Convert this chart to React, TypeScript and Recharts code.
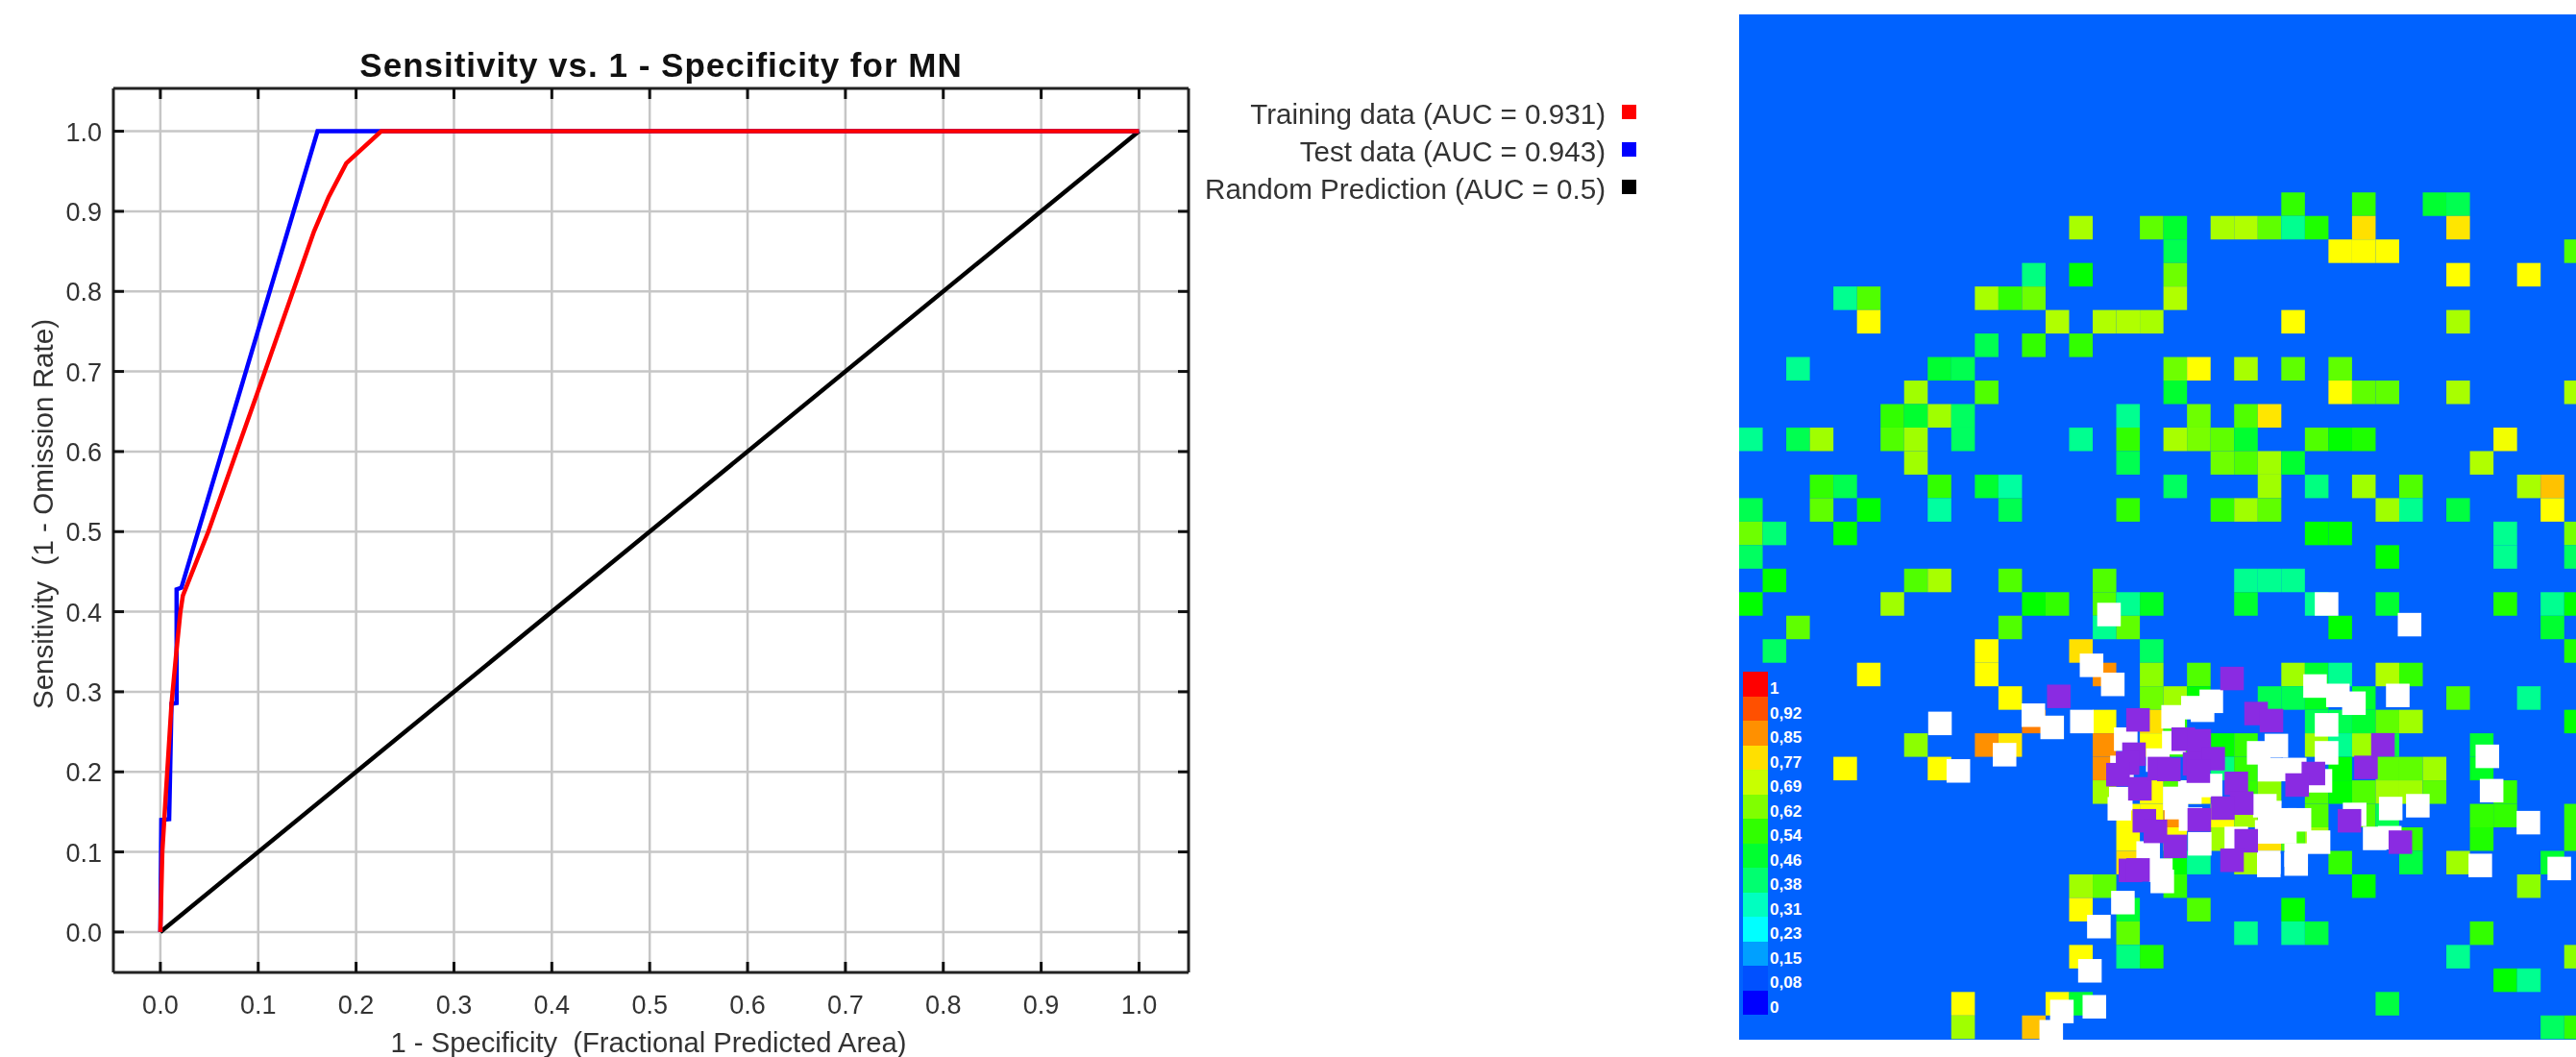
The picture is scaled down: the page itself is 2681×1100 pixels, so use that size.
import React from 'react';
import {
  LineChart, Line, ScatterChart, Scatter, XAxis, YAxis, CartesianGrid,
} from 'recharts';

// ROC curves, x = 1 - specificity, y = sensitivity
const trainingCurve = [
  { x: 0, y: 0 }, { x: 0.002, y: 0.1 }, { x: 0.005, y: 0.16 }, { x: 0.0114, y: 0.285 },
  { x: 0.0166, y: 0.353 }, { x: 0.0205, y: 0.4 }, { x: 0.023, y: 0.42 }, { x: 0.049, y: 0.5 },
  { x: 0.102, y: 0.683 }, { x: 0.157, y: 0.875 }, { x: 0.172, y: 0.918 }, { x: 0.19, y: 0.96 },
  { x: 0.2257, y: 1 }, { x: 1, y: 1 },
];
const testCurve = [
  { x: 0, y: 0 }, { x: 0.001, y: 0.14 }, { x: 0.009, y: 0.141 }, { x: 0.0114, y: 0.285 },
  { x: 0.0166, y: 0.286 }, { x: 0.0166, y: 0.428 }, { x: 0.0215, y: 0.43 }, { x: 0.1606, y: 1 },
  { x: 1, y: 1 },
];
const randomCurve = [{ x: 0, y: 0 }, { x: 1, y: 1 }];
const rocTicks = [0, 0.1, 0.2, 0.3, 0.4, 0.5, 0.6, 0.7, 0.8, 0.9, 1];

const rocLegend = [
  { label: 'Training data (AUC = 0.931)', color: '#ff0000' },
  { label: 'Test data (AUC = 0.943)', color: '#0000ff' },
  { label: 'Random Prediction (AUC = 0.5)', color: '#000000' },
];

// Suitability map: [column, value] per row of the grid
type Cell = [number, number];
const row00: Cell[] = [[23, .51], [26, .51], [29, .415], [30, .385]];
const row01: Cell[] = [[14, .655], [17, .555], [18, .415], [20, .655], [21, .69], [22, .555], [23, .325], [24, .49], [26, .77], [30, .76]];
const row02: Cell[] = [[18, .385], [25, .72], [26, .72], [27, .72], [35, .54]];
const row03: Cell[] = [[12, .34], [14, .46], [18, .57], [30, .72], [33, .72]];
const row04: Cell[] = [[4, .325], [5, .54], [10, .655], [11, .51], [12, .57], [18, .69]];
const row05: Cell[] = [[5, .72], [13, .69], [15, .69], [16, .69], [17, .655], [23, .72], [30, .655]];
const row06: Cell[] = [[10, .385], [12, .51], [14, .51]];
const row07: Cell[] = [[2, .325], [8, .415], [9, .385], [18, .57], [19, .72], [21, .655], [23, .555], [25, .555]];
const row08: Cell[] = [[7, .62], [10, .54], [18, .415], [25, .72], [26, .555], [27, .555], [30, .655], [35, .655]];
const row09: Cell[] = [[6, .51], [7, .415], [8, .62], [9, .37], [16, .325], [19, .57], [21, .54], [22, .76]];
const row10: Cell[] = [[0, .325], [2, .385], [3, .62], [6, .54], [7, .62], [9, .37], [14, .325], [16, .51], [18, .655], [19, .58], [20, .555], [21, .415], [24, .54], [25, .46], [26, .49], [32, .715]];
const row11: Cell[] = [[7, .62], [16, .385], [20, .57], [21, .54], [22, .62], [23, .415], [31, .69]];
const row12: Cell[] = [[3, .51], [4, .385], [8, .51], [10, .415], [11, .31], [18, .37], [22, .62], [24, .34], [26, .62], [28, .54], [33, .655], [34, .8]];
const row13: Cell[] = [[0, .385], [3, .555], [5, .46], [8, .31], [11, .385], [16, .51], [20, .51], [21, .62], [22, .555], [27, .62], [28, .325], [30, .4], [34, .72]];
const row14: Cell[] = [[0, .57], [1, .35], [4, .46], [24, .46], [25, .46], [32, .325], [35, .58]];
const row15: Cell[] = [[0, .37], [27, .46], [32, .325], [35, .37]];
const row16: Cell[] = [[1, .46], [7, .54], [8, .655], [11, .54], [15, .54], [21, .325], [22, .325], [23, .325]];
const row17: Cell[] = [[0, .46], [6, .62], [12, .46], [13, .51], [15, .54], [16, .325], [17, .43], [21, .415], [24, .325], [27, .415], [32, .49], [34, .325], [35, .46]];
const row18: Cell[] = [[2, .555], [11, .54], [15, .325], [16, .555], [25, .46], [34, .415]];
const row19: Cell[] = [[1, .37], [10, .72], [14, .77], [17, .37], [35, .49]];
const row20: Cell[] = [[5, .72], [10, .72], [15, .85], [17, .6], [19, .54], [23, .62], [24, .415], [25, .325], [27, .69], [28, .51]];
const row21: Cell[] = [[11, .72], [17, .57], [18, .62], [19, .46], [22, .385], [23, .385], [24, .43], [26, .415], [30, .54], [33, .325]];
const row22: Cell[] = [[12, .87], [15, .72], [17, .77], [18, .51], [24, .385], [25, .385], [26, .415], [27, .555], [28, .62], [35, .46]];
const row23: Cell[] = [[7, .6], [10, .85], [11, .76], [15, .85], [17, .72], [18, .51], [20, .46], [21, .51], [24, .62], [25, .325], [26, .62], [27, .4], [31, .415]];
const row24: Cell[] = [[4, .72], [8, .72], [15, .85], [20, .34], [21, .51], [25, .46], [27, .555], [28, .555], [29, .62], [31, .43]];
const row25: Cell[] = [[15, .62], [17, .72], [18, .54], [19, .72], [21, .51], [22, .6], [24, .54], [25, .46], [26, .54], [27, .62], [28, .62], [29, .555], [32, .51]];
const row26: Cell[] = [[16, .72], [17, .72], [18, .85], [20, .72], [21, .62], [24, .54], [26, .54], [27, .385], [31, .51], [32, .51], [35, .51]];
const row27: Cell[] = [[16, .72], [18, .72], [20, .62], [22, .77], [23, .54], [24, .62], [28, .51], [31, .49], [35, .51]];
const row28: Cell[] = [[16, .77], [18, .46], [19, .325], [21, .62], [25, .51], [28, .4], [30, .62], [34, .415]];
const row29: Cell[] = [[14, .62], [15, .555], [18, .51], [26, .46], [33, .6]];
const row30: Cell[] = [[14, .72], [16, .415], [19, .54], [23, .46]];
const row31: Cell[] = [[16, .555], [21, .325], [23, .325], [24, .4], [31, .51]];
const row32: Cell[] = [[14, .72], [16, .34], [17, .49], [30, .325], [35, .6]];
const row33: Cell[] = [[32, .46], [33, .325]];
const row34: Cell[] = [[9, .72], [13, .72], [14, .415], [27, .4]];
const row35: Cell[] = [[9, .62], [12, .8], [34, .37], [35, .51]];
const heatRows = [
  row00, row01, row02, row03, row04, row05, row06, row07, row08, row09, row10, row11,
  row12, row13, row14, row15, row16, row17, row18, row19, row20, row21, row22, row23,
  row24, row25, row26, row27, row28, row29, row30, row31, row32, row33, row34, row35,
];

// occurrence markers, [column, row] of the top left corner
const whiteMarkers: Cell[] = [
  [24.42, 17], [27.94, 17.88], [15.19, 17.45], [14.45, 19.61], [15.35, 20.42], [27.44, 20.89],
  [11.98, 21.73], [12.78, 22.25], [14.04, 22], [8.02, 22.08], [10.76, 23.41], [8.8, 24.1],
  [31.24, 23.48], [31.42, 24.94], [32.98, 26.3], [30.94, 28.12], [34.29, 28.25], [28.29, 25.58],
  [27.14, 25.7], [15.78, 29.7], [14.76, 30.72], [14.38, 32.6], [13.19, 34.33], [14.57, 34.13],
  [12.74, 35.19], [17.45, 28.8], [17.91, 21.8], [18.75, 21.41], [19.16, 21.52], [19.53, 21.14],
  [15.9, 22.75], [17.94, 22.9], [17.26, 23.64], [15.74, 23.95], [15.69, 25.28], [15.63, 25.71],
  [17.98, 25.27], [18.62, 25], [19.5, 24.72], [18.05, 25.66], [18.65, 26.15], [16.85, 27.59],
  [17.39, 28.32], [19.04, 27.2], [21.54, 23.33], [22, 24.05], [21.8, 25.58], [20.59, 26.97],
  [21.97, 28.12], [21.88, 26.69], [23.93, 20.49], [24.9, 20.89], [25.58, 21.22], [24.42, 22.14],
  [24.42, 23.33], [22.29, 23.02], [23.07, 24.04], [22.29, 24.04], [24.16, 24.52], [25.61, 25.95],
  [26.46, 26.97], [27.1, 26.94], [22.65, 26.18], [23.27, 26.18], [22.65, 26.69], [22.01, 25.87],
  [22.01, 26.69], [23.13, 27.68], [23.13, 28.06], [24.08, 27.13], [21.97, 27.99],
];
const purpleMarkers: Cell[] = [
  [16.42, 21.93], [16.25, 23.39], [15.98, 23.77], [15.57, 24.26], [16.5, 24.86], [17.33, 24],
  [17.73, 24.04], [18.34, 22.75], [19.02, 22.82], [18.82, 23.8], [19.61, 23.58], [18.98, 24.11],
  [20.59, 24.63], [20.82, 25.47], [20.02, 25.68], [19.02, 26.18], [16.69, 26.22], [17.16, 26.67],
  [18, 27.31], [16.1, 28.33], [16.42, 28.31], [21.01, 27.07], [20.41, 27.9], [21.43, 21.66],
  [22.08, 21.96], [13.06, 20.93], [20.41, 20.17], [23.86, 24.21], [23.17, 24.7], [26.09, 23.95],
  [26.81, 22.99], [25.39, 26.22], [27.55, 27.13],
];

const mapLegendLabels = ['1', '0,92', '0,85', '0,77', '0,69', '0,62', '0,54', '0,46', '0,38', '0,31', '0,23', '0,15', '0,08', '0'];
const mapLegendColors = ['#ff0000', '#ff5000', '#ff9000', '#ffe000', '#c8ff00', '#80ff00', '#30ff00', '#00ff30', '#00ff70', '#00ffc0', '#00ffff', '#00a0ff', '#0050ff', '#0000ff'];

const colorStops: [number, number[]][] = [
  [0.31, [0, 255, 160]], [0.46, [0, 255, 0]], [0.62, [160, 255, 0]], [0.69, [176, 255, 0]],
  [0.72, [255, 255, 0]], [0.77, [255, 224, 0]], [0.85, [255, 144, 0]], [0.92, [255, 80, 0]],
];
const colorFor = (v: number) => {
  for (let i = 1; i < colorStops.length; i++) {
    const [v0, c0] = colorStops[i - 1];
    const [v1, c1] = colorStops[i];
    if (v <= v1) {
      const t = Math.max(0, (v - v0) / (v1 - v0));
      return `rgb(${c0.map((c, k) => Math.round(c + (c1[k] - c) * t)).join(',')})`;
    }
  }
  return '#ff5000';
};

const heatData = heatRows.flatMap((cells, row) =>
  cells.map(([col, value]) => ({ col: col + 0.5, row: row + 0.5, value })));
const toMarkers = (list: Cell[]) => list.map(([col, row]) => ({ col: col + 0.5, row: row + 0.5 }));

const FONT = '"Liberation Sans", Arial, sans-serif';
const MAP_W = 871;
const MAP_H = 1067;
const COL_MAX = 35.5;
const ROW_MIN = -7.57;
const ROW_MAX = 36.03;
const CELL_W = MAP_W / COL_MAX;
const CELL_H = MAP_H / (ROW_MAX - ROW_MIN);

const HeatCell = ({ cx, cy, payload }: any) => (
  <rect x={cx - CELL_W / 2} y={cy - CELL_H / 2} width={CELL_W} height={CELL_H} fill={colorFor(payload.value)} />
);
const MarkerSquare = (fill: string) => ({ cx, cy }: any) => (
  <rect x={cx - CELL_W / 2} y={cy - CELL_H / 2} width={CELL_W} height={CELL_H} fill={fill} />
);

const TICK_LEN = 11;
const TICK_COLOR = '#111';

const BottomTick = ({ x, y, payload }: any) => (
  <g>
    <line x1={x} x2={x} y1={y} y2={y - TICK_LEN} stroke={TICK_COLOR} strokeWidth={3} />
    <text x={x} y={y + 43} textAnchor="middle" fontFamily={FONT} fontSize={27} fill="#333">{payload.value.toFixed(1)}</text>
  </g>
);
const TopTick = ({ x, y }: any) => (
  <line x1={x} x2={x} y1={y} y2={y + TICK_LEN} stroke={TICK_COLOR} strokeWidth={3} />
);
const LeftTick = ({ x, y, payload }: any) => (
  <g>
    <line x1={x} x2={x + TICK_LEN} y1={y} y2={y} stroke={TICK_COLOR} strokeWidth={3} />
    <text x={x - 12} y={y + 10} textAnchor="end" fontFamily={FONT} fontSize={27} fill="#333">{payload.value.toFixed(1)}</text>
  </g>
);
const RightTick = ({ x, y }: any) => (
  <line x1={x} x2={x - TICK_LEN} y1={y} y2={y} stroke={TICK_COLOR} strokeWidth={3} />
);

const axisLine = { stroke: '#222', strokeWidth: 3 };
const xDomain = [-0.048, 1.0506];
const yDomain = [-0.0505, 1.0535];

const App: React.FC = () => (
  <div style={{ position: 'absolute', left: 0, top: 0, width: 2681, height: 1100, background: '#fff', overflow: 'hidden', fontFamily: FONT }}>
    <div style={{ position: 'absolute', left: 0, top: 0, width: 1800, height: 1100, filter: 'blur(0.6px)' }}>
      <LineChart width={1240} height={1100} margin={{ top: 91, right: 2, bottom: 38, left: 58 }}>
        <CartesianGrid stroke="#c6c6c6" strokeWidth={2.5} verticalValues={rocTicks} horizontalValues={rocTicks} />
        <XAxis
          dataKey="x" type="number" domain={xDomain} ticks={rocTicks} height={50} allowDataOverflow
          tickSize={0} tickMargin={0} tickLine={false} axisLine={axisLine} tick={<BottomTick />} interval={0}
        />
        <XAxis
          xAxisId="top" orientation="top" dataKey="x" type="number" domain={xDomain} ticks={rocTicks} height={1} allowDataOverflow
          tickSize={0} tickMargin={0} tickLine={false} axisLine={axisLine} tick={<TopTick />} interval={0}
        />
        <YAxis
          dataKey="y" type="number" domain={yDomain} ticks={rocTicks} width={60} allowDataOverflow
          tickSize={0} tickMargin={0} tickLine={false} axisLine={axisLine} tick={<LeftTick />} interval={0}
        />
        <YAxis
          yAxisId="right" orientation="right" dataKey="y" type="number" domain={yDomain} ticks={rocTicks} width={1} allowDataOverflow
          tickSize={0} tickMargin={0} tickLine={false} axisLine={axisLine} tick={<RightTick />} interval={0}
        />
        <Line xAxisId="top" yAxisId="right" data={randomCurve} dataKey="y" stroke="none" dot={false} legendType="none" isAnimationActive={false} />
        <Line data={randomCurve} dataKey="y" stroke="#000000" strokeWidth={4.5} dot={false} type="linear" isAnimationActive={false} />
        <Line data={testCurve} dataKey="y" stroke="#0000ff" strokeWidth={4.5} dot={false} type="linear" isAnimationActive={false} />
        <Line data={trainingCurve} dataKey="y" stroke="#ff0000" strokeWidth={4.5} dot={false} type="linear" isAnimationActive={false} />
      </LineChart>
      <div style={{ position: 'absolute', left: 176, width: 1024, top: 50, textAlign: 'center', fontWeight: 700, fontSize: 35, letterSpacing: 1, lineHeight: '36px', color: '#111', whiteSpace: 'pre' }}>
        Sensitivity vs. 1 - Specificity for MN
      </div>
      <div style={{ position: 'absolute', left: 175, width: 1000, top: 1067, textAlign: 'center', fontSize: 29.2, lineHeight: '36px', color: '#333', whiteSpace: 'pre' }}>
        1 - Specificity  (Fractional Predicted Area)
      </div>
      <div style={{ position: 'absolute', left: 45, top: 535, width: 700, height: 36, marginLeft: -350, marginTop: -18, textAlign: 'center', fontSize: 29.6, lineHeight: '36px', color: '#333', whiteSpace: 'pre', transform: 'rotate(-90deg)' }}>
        Sensitivity  (1 - Omission Rate)
      </div>
      {rocLegend.map((item, i) => (
        <React.Fragment key={item.label}>
          <div style={{ position: 'absolute', left: 1071, width: 600, top: 101 + i * 39, fontSize: 29.6, lineHeight: '36px', color: '#333', whiteSpace: 'pre', textAlign: 'right' }}>
            {item.label}
          </div>
          <div style={{ position: 'absolute', left: 1688, top: 109 + i * 39, width: 15, height: 15, background: item.color }} />
        </React.Fragment>
      ))}
    </div>

    <div style={{ position: 'absolute', left: 1810, top: 15, width: MAP_W, height: MAP_H, background: '#0062ff' }}>
      <ScatterChart width={MAP_W} height={MAP_H} margin={{ top: 0, right: 0, bottom: 0, left: 0 }}>
        <XAxis dataKey="col" type="number" domain={[0, COL_MAX]} hide allowDataOverflow />
        <YAxis dataKey="row" type="number" domain={[ROW_MIN, ROW_MAX]} reversed hide allowDataOverflow />
        <Scatter data={heatData} shape={<HeatCell />} isAnimationActive={false} />
        <Scatter data={toMarkers(whiteMarkers)} shape={MarkerSquare('#ffffff')} isAnimationActive={false} />
        <Scatter data={toMarkers(purpleMarkers)} shape={MarkerSquare('#8a2be2')} isAnimationActive={false} />
      </ScatterChart>
      {mapLegendLabels.map((label, i) => (
        <React.Fragment key={label}>
          <div style={{ position: 'absolute', left: 4, top: 684 + i * 25.5, width: 26, height: 25.5, background: mapLegendColors[i] }} />
          <div style={{ position: 'absolute', left: 32, top: 692 + i * 25.5, fontSize: 17, lineHeight: '20px', fontWeight: 700, color: '#fff' }}>
            {label}
          </div>
        </React.Fragment>
      ))}
    </div>
  </div>
);

export default App;
